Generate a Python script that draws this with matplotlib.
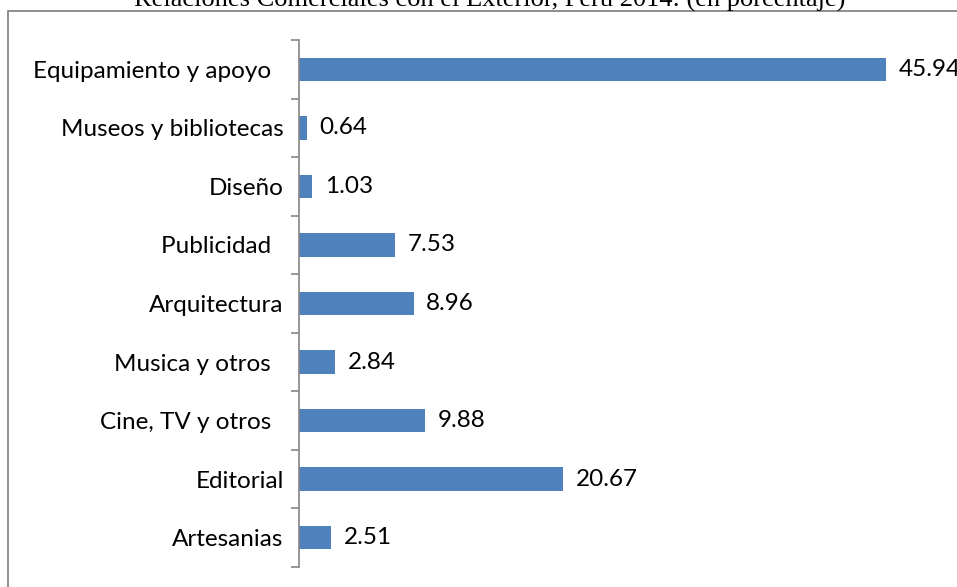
import matplotlib
matplotlib.use('Agg')
import matplotlib.pyplot as plt
from matplotlib.patches import Rectangle

# data (bottom to top)
categories = ['Artesanias', 'Editorial', 'Cine, TV y otros  ', 'Musica y otros  ',
              'Arquitectura', 'Publicidad  ', 'Diseño', 'Museos y bibliotecas',
              'Equipamiento y apoyo  ']
values = [2.51, 20.67, 9.88, 2.84, 8.96, 7.53, 1.03, 0.64, 45.94]
title = 'Relaciones Comerciales con el Exterior, Perú 2014: (en porcentaje)'

W, H = 957, 587
fig = plt.figure(figsize=(W / 100, H / 100), dpi=100)

# outer chart border (runs off the right and bottom edges)
fig.patches.append(Rectangle((8 / W, -0.1), 1.2, 1 - 11 / H + 0.1,
                             transform=fig.transFigure, fill=False,
                             edgecolor='#868686', linewidth=1.3))

# title, mostly cut off at the top
fig.text(490 / W, 1 - 7 / H, title, ha='center', va='baseline',
         family='Liberation Serif', fontsize=19)

ax = fig.add_axes([299 / W, 1 - 567 / H, 639 / W, 527 / H])
pos = list(range(len(categories)))
ax.barh(pos, values, height=0.4, color='#4F81BD')
ax.set_xlim(0, 50)
ax.set_ylim(-0.5, len(categories) - 0.5)

for s in ['top', 'right', 'bottom']:
    ax.spines[s].set_visible(False)
ax.spines['left'].set_color('#868686')
ax.spines['left'].set_linewidth(1.2)
ax.set_xticks([])

ax.set_yticks(pos)
ax.set_yticklabels(categories, family='Lato', fontsize=17.5)
ax.tick_params(axis='y', which='major', length=0, pad=11)
ax.set_yticks([p - 0.5 for p in pos] + [len(pos) - 0.5], minor=True)
ax.tick_params(axis='y', which='minor', length=6, width=1.2, color='#868686')

for p, v in zip(pos, values):
    ax.annotate(f'{v:.2f}', (v, p), xytext=(9, 0), textcoords='offset points',
                ha='left', va='center', family='Lato', fontsize=17.5,
                annotation_clip=False)

fig.savefig('out.png', dpi=100)
